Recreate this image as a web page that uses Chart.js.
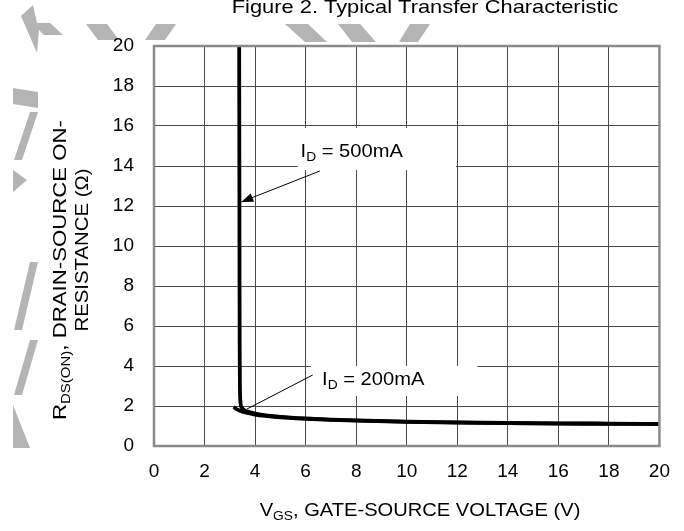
<!DOCTYPE html>
<html>
<head>
<meta charset="utf-8">
<script src="https://cdn.jsdelivr.net/npm/chart.js@4.4.1/dist/chart.umd.min.js"></script>
<style>
  html, body { margin: 0; padding: 0; background: #fff; }
  #wrap { width: 684px; height: 531px; position: relative; }
</style>
</head>
<body>
<div id="wrap"><canvas id="c" width="684" height="531"></canvas></div>
<script>
// R_DS(on) vs V_GS, two drain currents
const vgs500 = [3.37, 3.375, 3.38, 3.385, 3.39, 3.40, 3.42, 3.46, 3.55, 3.7, 4.0, 4.5, 5.0, 6.0, 7.0, 8.0, 10.0, 12.0, 14.0, 16.0, 18.0, 20.0];
const rds500 = [20.0, 16.0, 12.0, 8.0, 5.0, 3.0, 2.2, 1.95, 1.82, 1.72, 1.62, 1.52, 1.46, 1.38, 1.32, 1.28, 1.22, 1.18, 1.15, 1.13, 1.12, 1.10];

const vgs200 = [3.15, 3.3, 3.5, 3.75, 4.0, 4.5, 5.0, 6.0, 7.0, 8.0, 10.0, 12.0, 14.0, 16.0, 18.0, 20.0];
const rds200 = [1.95, 1.82, 1.72, 1.64, 1.57, 1.49, 1.43, 1.36, 1.31, 1.27, 1.21, 1.17, 1.14, 1.12, 1.11, 1.10];

const xTicks = [0, 2, 4, 6, 8, 10, 12, 14, 16, 18, 20];
const yTicks = [0, 2, 4, 6, 8, 10, 12, 14, 16, 18, 20];

// callouts: label box, text anchor, leader line (all in data units)
const callout500 = { text: '500mA', box: [5.69, 15.9, 11.95, 13.8], textAt: [5.8, 14.45], from: [6.56, 13.75], to: [3.45, 12.2], arrow: true };
const callout200 = { text: '200mA', box: [6.2, 4.0, 12.8, 2.5], textAt: [6.65, 3.05], from: [6.28, 3.55], to: [3.68, 1.85], arrow: false };

const FONT = '"Liberation Sans", Arial, Helvetica, sans-serif';
const WIDE = 1.15; // horizontal stretch of the lettering

function toXY(chart, p) {
  return [chart.scales.x.getPixelForValue(p[0]), chart.scales.y.getPixelForValue(p[1])];
}

// draws a run of text pieces, each with its own size and vertical shift
function richText(ctx, parts, x, y, align, sx) {
  sx = sx || 1;
  let w = 0;
  parts.forEach(p => { ctx.font = p.size + 'px ' + FONT; w += ctx.measureText(p.t).width; });
  ctx.save();
  ctx.translate(x, y);
  ctx.scale(sx, 1);
  let cx = align === 'center' ? -w / 2 : 0;
  ctx.textAlign = 'left';
  ctx.textBaseline = 'alphabetic';
  parts.forEach(p => {
    ctx.font = p.size + 'px ' + FONT;
    ctx.fillText(p.t, cx, p.dy || 0);
    cx += ctx.measureText(p.t).width;
  });
  ctx.restore();
}

// faint grey background marks in the page margin
const marks = [
  [[33,5],[21,16],[37,53],[39,30],[44,35],[63,35],[50,23],[37,23]],
  [[86,24],[107,24],[119,40],[98,40]],
  [[156,24],[176,24],[165,40],[145,40]],
  [[285,24],[308,24],[327,42],[305,42]],
  [[338,24],[360,24],[376,42],[352,42]],
  [[410,24],[430,24],[418,42],[399,42]],
  [[13,88],[38,92],[38,108],[13,104]],
  [[30,112],[38,112],[22,160],[14,160]],
  [[13,170],[27,180],[13,192]],
  [[30,262],[38,262],[22,330],[14,330]],
  [[30,340],[38,340],[22,395],[14,395]],
  [[13,405],[30,448],[13,448]]
];

const decor = {
  id: 'decor',
  beforeDraw(chart) {
    const ctx = chart.ctx;
    ctx.save();
    ctx.fillStyle = '#b4b4b4';
    marks.forEach(poly => {
      ctx.beginPath();
      poly.forEach((pt, i) => i ? ctx.lineTo(pt[0], pt[1]) : ctx.moveTo(pt[0], pt[1]));
      ctx.closePath();
      ctx.fill();
    });
    ctx.restore();
  },
  afterDatasetsDraw(chart) {
    const ctx = chart.ctx;
    const a = chart.chartArea;
    ctx.save();
    [callout500, callout200].forEach(c => {
      const p1 = toXY(chart, [c.box[0], c.box[1]]);
      const p2 = toXY(chart, [c.box[2], c.box[3]]);
      ctx.fillStyle = '#fff';
      ctx.fillRect(p1[0], p1[1], p2[0] - p1[0], p2[1] - p1[1]);
      const f = toXY(chart, c.from), t = toXY(chart, c.to);
      ctx.strokeStyle = '#000';
      ctx.lineWidth = 1;
      ctx.beginPath();
      ctx.moveTo(f[0], f[1]);
      ctx.lineTo(t[0], t[1]);
      ctx.stroke();
      if (c.arrow) {
        const ang = Math.atan2(t[1] - f[1], t[0] - f[0]);
        const L = 12, W = 4.5;
        ctx.fillStyle = '#000';
        ctx.beginPath();
        ctx.moveTo(t[0], t[1]);
        ctx.lineTo(t[0] - L * Math.cos(ang) + W * Math.sin(ang), t[1] - L * Math.sin(ang) - W * Math.cos(ang));
        ctx.lineTo(t[0] - L * Math.cos(ang) - W * Math.sin(ang), t[1] - L * Math.sin(ang) + W * Math.cos(ang));
        ctx.closePath();
        ctx.fill();
      }
      const tp = toXY(chart, c.textAt);
      ctx.fillStyle = '#000';
      richText(ctx, [{ t: 'I', size: 17.5 }, { t: 'D', size: 12, dy: 4 }, { t: ' = ' + c.text, size: 17.5 }], tp[0], tp[1], 'left', WIDE);
    });
    // plot frame
    ctx.strokeStyle = '#8a8a8a';
    ctx.lineWidth = 2.5;
    ctx.strokeRect(a.left, a.top, a.right - a.left, a.bottom - a.top);
    ctx.restore();
  },
  afterDraw(chart) {
    const ctx = chart.ctx;
    ctx.save();
    ctx.fillStyle = '#000';
    richText(ctx, [{ t: 'Figure 2. Typical Transfer Characteristic', size: 19 }], 425, 13, 'center', WIDE);
    richText(ctx, [{ t: 'V', size: 17.5 }, { t: 'GS', size: 12, dy: 4 }, { t: ', GATE-SOURCE VOLTAGE (V)', size: 17.5 }], 420, 516, 'center', WIDE);
    ctx.save();
    ctx.translate(66, 270);
    ctx.rotate(-Math.PI / 2);
    richText(ctx, [{ t: 'R', size: 18.5 }, { t: 'DS(ON)', size: 12.5, dy: 4 }, { t: ', DRAIN-SOURCE ON-', size: 18.5 }], 0, 0, 'center', 1.2);
    ctx.restore();
    ctx.save();
    ctx.translate(88, 250);
    ctx.rotate(-Math.PI / 2);
    richText(ctx, [{ t: 'RESISTANCE (\u03A9)', size: 18.5 }], 0, 0, 'center', 1.1);
    ctx.restore();
    ctx.restore();
  }
};

const lineStyle = { borderColor: '#000', borderWidth: 3.8, pointRadius: 0, fill: false, cubicInterpolationMode: 'monotone' };

new Chart(document.getElementById('c'), {
  type: 'line',
  data: {
    datasets: [
      Object.assign({ label: 'ID = 500mA', data: vgs500.map((v, i) => ({ x: v, y: rds500[i] })) }, lineStyle),
      Object.assign({ label: 'ID = 200mA', data: vgs200.map((v, i) => ({ x: v, y: rds200[i] })) }, lineStyle)
    ]
  },
  options: {
    responsive: false,
    animation: false,
    layout: { padding: { left: 0, right: 24, top: 46, bottom: 0 } },
    plugins: { legend: { display: false }, tooltip: { enabled: false }, title: { display: false } },
    scales: {
      x: {
        type: 'linear', min: 0, max: 20,
        afterBuildTicks(s) { s.ticks = xTicks.map(v => ({ value: v })); },
        afterFit(s) { s.height = 85; },
        grid: { color: '#4a4a4a', lineWidth: 1, drawTicks: false },
        border: { display: false },
        ticks: { color: '#000', font: { family: FONT, size: 19 }, padding: 14, maxRotation: 0 }
      },
      y: {
        type: 'linear', min: 0, max: 20,
        afterBuildTicks(s) { s.ticks = yTicks.map(v => ({ value: v })); },
        afterFit(s) { s.width = 154; },
        grid: { color: '#4a4a4a', lineWidth: 1, drawTicks: false },
        border: { display: false },
        ticks: { color: '#000', font: { family: FONT, size: 19 }, padding: 20 }
      }
    }
  },
  plugins: [decor]
});
</script>
</body>
</html>
